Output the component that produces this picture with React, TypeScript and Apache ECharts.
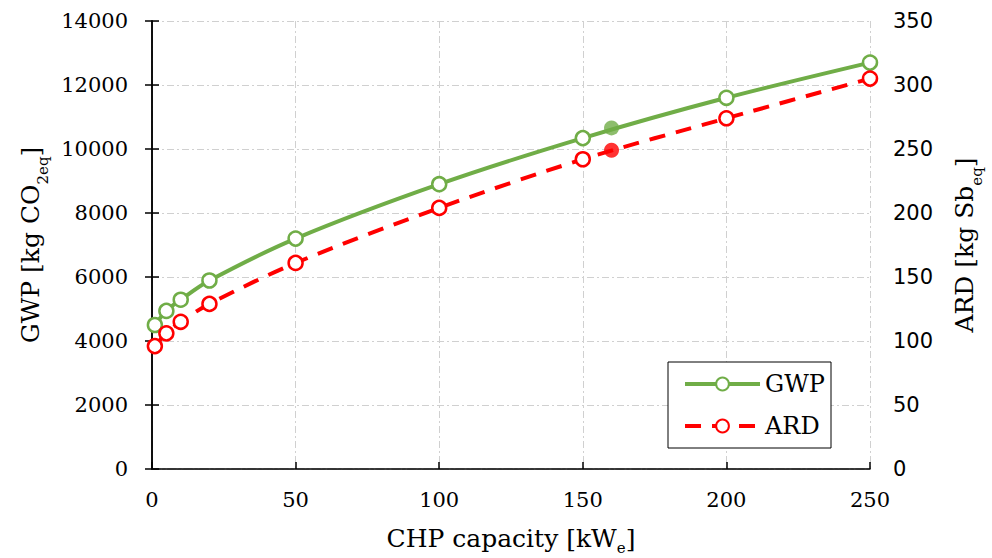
import React, { useEffect, useRef } from "react";
import * as echarts from "echarts";

const capacity = [1, 5, 10, 20, 50, 100, 150, 200, 250];
const gwpValues = [4500, 4940, 5290, 5890, 7200, 8900, 10340, 11600, 12700];
const ardValues = [96, 106, 115, 129, 161, 204, 242, 274, 305];
const highlightCapacity = 160;
const gwpHighlight = 10660;
const ardHighlight = 249;

const GREEN = "#70AD47";
const RED = "#FF0000";
const FONT = "DejaVu Serif";

export default function App() {
  const ref = useRef<HTMLDivElement>(null);
  useEffect(() => {
    if (!ref.current) return;
    const chart = echarts.init(ref.current, undefined, { renderer: "svg" });
    const gwpData = capacity.map((c, i) => [c, gwpValues[i]]);
    const ardData = capacity.map((c, i) => [c, ardValues[i]]);
    const gridLine = { show: true, lineStyle: { color: "#d0d0d0", width: 1, type: [7, 3, 2, 3] } };
    const sub = { fontFamily: FONT, fontSize: 15, color: "#000", verticalAlign: "bottom" as const, padding: [0, 0, -7, 0] };
    const subX = { ...sub, padding: [0, 0, -4, 0] };
    const plain = (v: number) => String(v);
    chart.setOption({
      animation: false,
      backgroundColor: "#fff",
      grid: { left: 152, right: 122, top: 21, bottom: 89, containLabel: false, outerBoundsMode: "none" },
      legend: {
        right: 161,
        bottom: 110,
        orient: "vertical",
        backgroundColor: "#fff",
        borderColor: "#000",
        borderWidth: 1,
        borderRadius: 0,
        padding: [10, 6, 10, 15],
        itemGap: 18,
        itemWidth: 75,
        itemHeight: 16,
        lineStyle: { width: 4 },
        textStyle: { fontFamily: FONT, fontSize: 24, color: "#000" },
        data: ["GWP", "ARD"],
      },
      xAxis: [
        {
          type: "value",
          min: 0,
          max: 250,
          interval: 50,
          name: "CHP capacity [kW{s|e}]",
          nameLocation: "middle",
          nameGap: 57,
          nameTextStyle: {
            fontFamily: FONT,
            fontSize: 25,
            color: "#000",
            rich: { s: subX },
          },
          axisLine: { show: true, lineStyle: { color: "#000", width: 1.5 } },
          axisTick: { show: true, inside: true, length: 7, lineStyle: { color: "#000", width: 1.5 } },
          axisLabel: { fontFamily: FONT, fontSize: 21, color: "#000", margin: 20, formatter: plain },
          splitLine: gridLine,
        },
        {
          type: "value",
          position: "top",
          min: 0,
          max: 250,
          interval: 50,
          axisLine: { show: true, lineStyle: { color: "#333", width: 1.5, type: [8, 3, 2, 3] } },
          axisTick: { show: false },
          axisLabel: { show: false },
          splitLine: { show: false },
        },
      ],
      yAxis: [
        {
          type: "value",
          min: 0,
          max: 14000,
          interval: 2000,
          name: "GWP [kg CO{s|2eq}]",
          nameLocation: "middle",
          nameRotate: 90,
          nameGap: 94,
          nameTextStyle: {
            fontFamily: FONT,
            fontSize: 25,
            color: "#000",
            rich: { s: sub },
          },
          axisLine: { show: true, lineStyle: { color: "#000", width: 1.5 } },
          axisTick: { show: true, inside: true, length: 7, lineStyle: { color: "#000", width: 1.5 } },
          axisLabel: { fontFamily: FONT, fontSize: 21, color: "#000", margin: 24, formatter: plain },
          splitLine: gridLine,
        },
        {
          type: "value",
          min: 0,
          max: 350,
          interval: 50,
          position: "right",
          name: "ARD [kg Sb{s|eq}]",
          nameLocation: "middle",
          nameRotate: 90,
          nameGap: 82,
          nameTextStyle: {
            fontFamily: FONT,
            fontSize: 25,
            color: "#000",
            rich: { s: sub },
          },
          axisLine: { show: true, lineStyle: { color: "#000", width: 1.5 } },
          axisTick: { show: true, inside: true, length: 7, lineStyle: { color: "#000", width: 1.5 } },
          axisLabel: { fontFamily: "DejaVu Sans", fontSize: 21, color: "#000", margin: 23, formatter: plain },
          splitLine: { show: false },
        },
      ],
      series: [
        {
          name: "GWP",
          type: "line",
          data: gwpData,
          smooth: 0.3,
          yAxisIndex: 0,
          symbol: "circle",
          symbolSize: 14,
          showAllSymbol: true,
          lineStyle: { color: GREEN, width: 4 },
          itemStyle: { color: "#fff", borderColor: GREEN, borderWidth: 2.5 },
          z: 3,
        },
        {
          name: "ARD",
          type: "line",
          data: ardData,
          smooth: 0.3,
          yAxisIndex: 1,
          symbol: "circle",
          symbolSize: 14,
          showAllSymbol: true,
          lineStyle: { color: RED, width: 4, type: [16, 11] },
          itemStyle: { color: "#fff", borderColor: RED, borderWidth: 2.5 },
          z: 3,
        },
        {
          name: "GWP highlight",
          type: "scatter",
          data: [[highlightCapacity, gwpHighlight]],
          yAxisIndex: 0,
          symbol: "circle",
          symbolSize: 15,
          itemStyle: { color: GREEN },
          z: 4,
        },
        {
          name: "ARD highlight",
          type: "scatter",
          data: [[highlightCapacity, ardHighlight]],
          yAxisIndex: 1,
          symbol: "circle",
          symbolSize: 15,
          itemStyle: { color: RED },
          z: 4,
        },
      ],
    });
    return () => chart.dispose();
  }, []);
  return (
    <div style={{ position: "fixed", left: 0, top: 0, width: 992, height: 558, background: "#fff" }}>
      <div ref={ref} style={{ width: 992, height: 558 }} />
    </div>
  );
}
